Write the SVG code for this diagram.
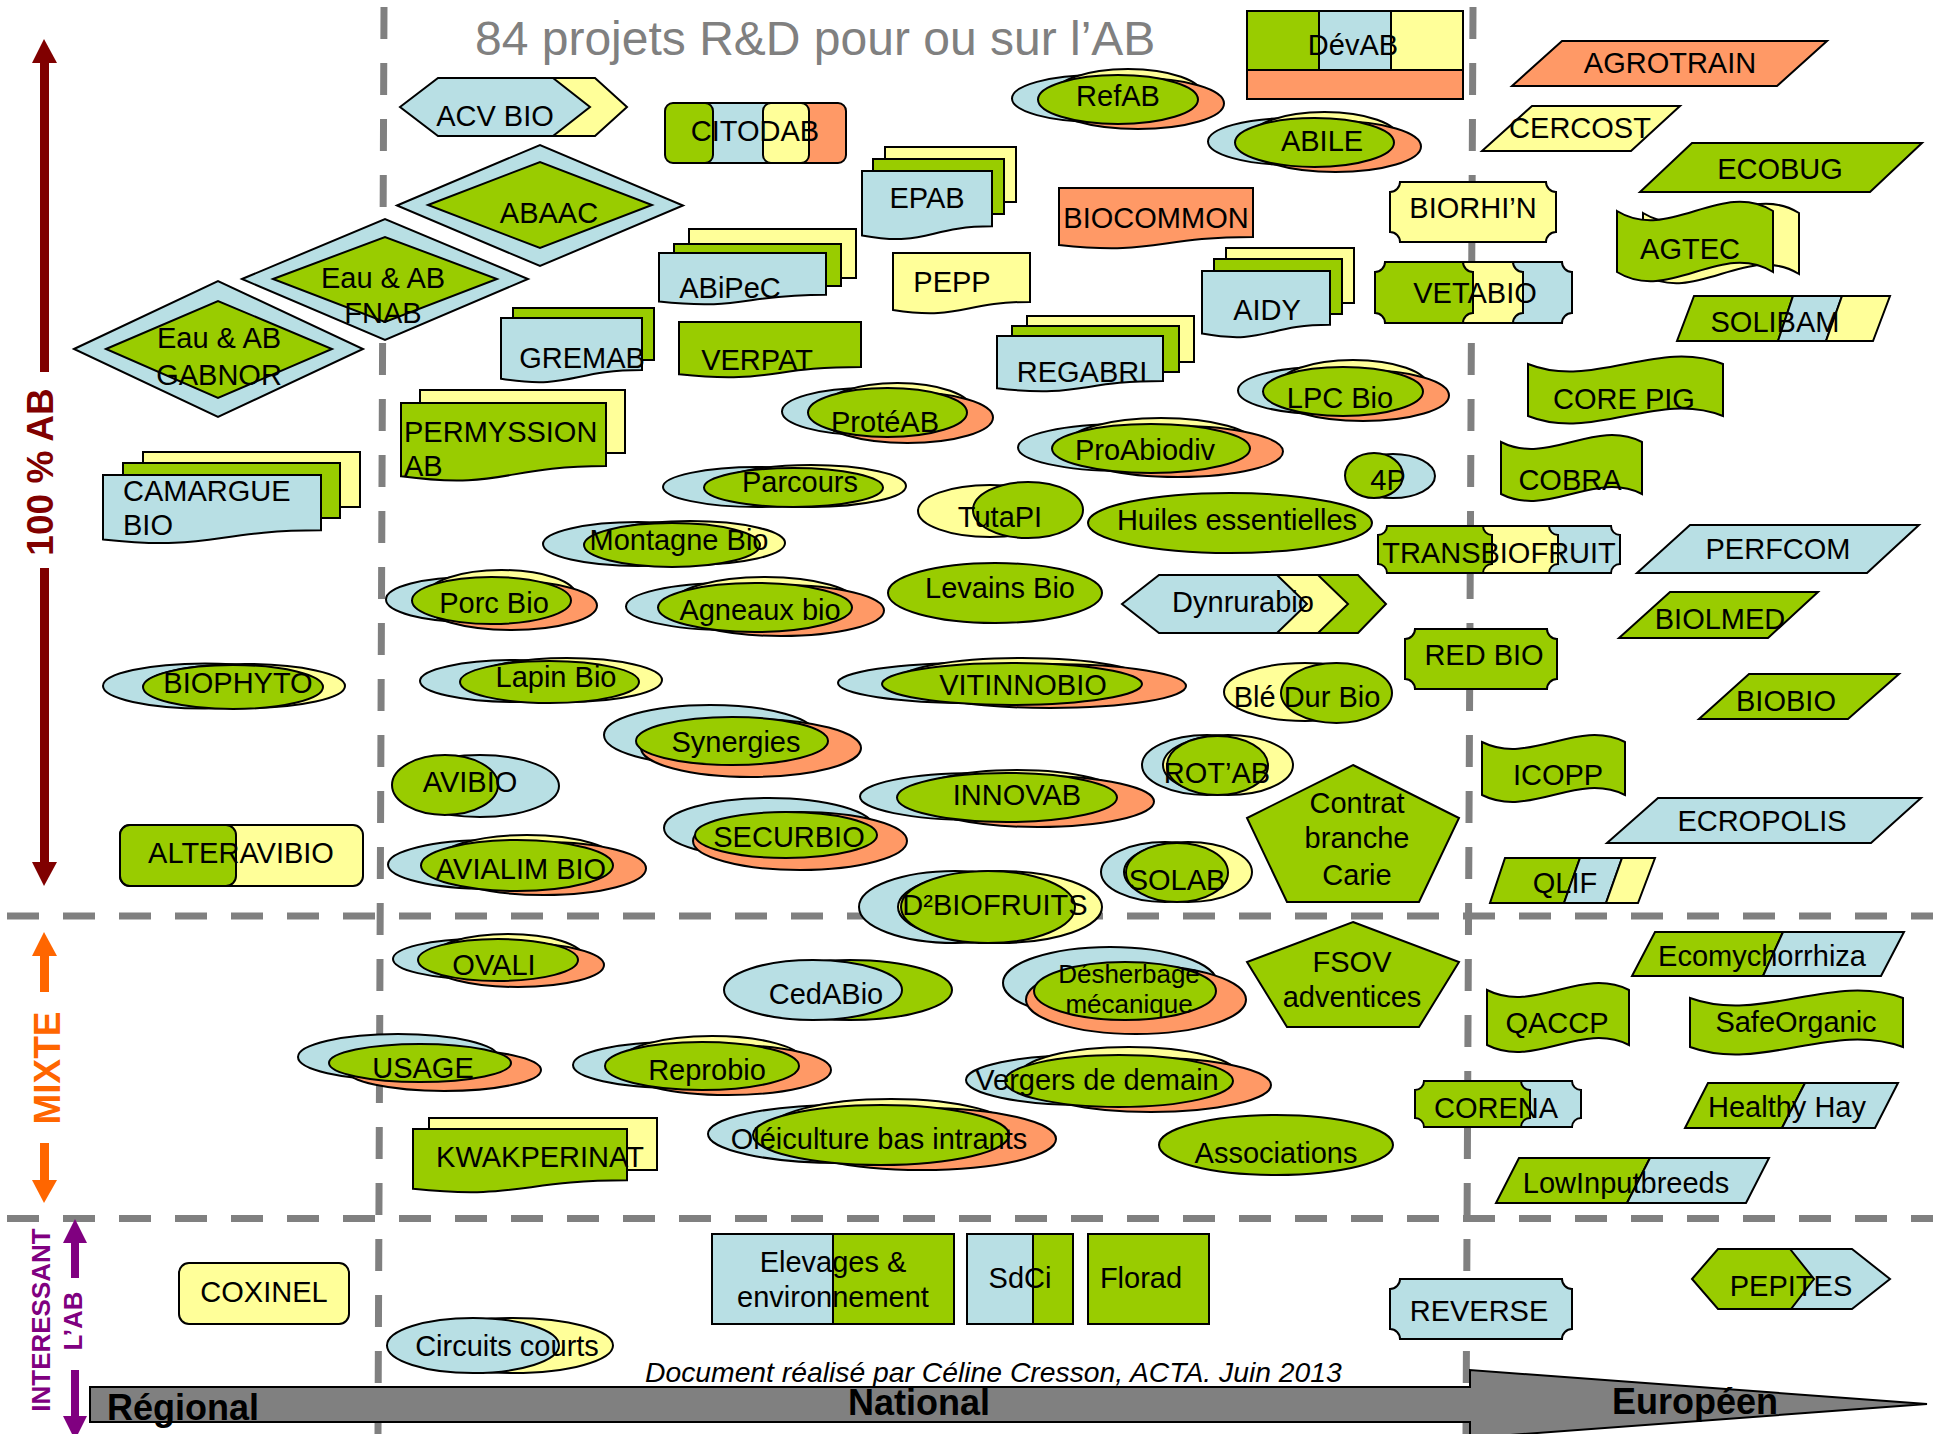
<svg xmlns="http://www.w3.org/2000/svg" width="1933" height="1434" viewBox="0 0 1933 1434">
<style>
.n path,.n ellipse,.n rect,.n polygon{stroke:#000;stroke-width:2}
.g{fill:#99CC00}.b{fill:#B8DFE4}.y{fill:#FFFF99}.o{fill:#FF9966}
text{font-family:"Liberation Sans",Arial,sans-serif;font-size:29px;fill:#000}
.c{text-anchor:middle}
.dash{stroke:#808080;stroke-width:7;stroke-dasharray:32 24;fill:none}
.ax{font-weight:bold;text-anchor:middle}
</style>
<rect width="1933" height="1434" fill="#fff"/>
<g id="grid">
<line class="dash" x1="384" y1="7" x2="378" y2="1434"/>
<line class="dash" x1="1473" y1="7" x2="1466" y2="1434"/>
<line class="dash" x1="7" y1="916" x2="1933" y2="916"/>
<line class="dash" x1="7" y1="1218.5" x2="1933" y2="1218.5"/>
</g>
<g id="axes">
<polygon points="90,1387 1470,1387 1470,1370 1927,1404 1470,1438 1470,1422 90,1422" fill="#808080" stroke="#000" stroke-width="2"/>
<text x="107" y="1420" style="font-size:36px;font-weight:bold">Régional</text>
<text x="848" y="1415" style="font-size:36px;font-weight:bold">National</text>
<text x="1612" y="1414" style="font-size:36px;font-weight:bold">Européen</text>
<g fill="#800000">
<polygon points="44,39 57,63 32,63"/><rect x="40" y="62" width="9" height="310"/>
<rect x="40" y="568" width="9" height="295"/><polygon points="32,862 57,862 44,886"/>
<text class="ax" transform="translate(53,472) rotate(-90)" style="font-size:37px;fill:#800000">100 % AB</text>
</g>
<g fill="#FF6600">
<polygon points="44,932 57,956 32,956"/><rect x="40" y="955" width="9" height="37"/>
<rect x="40" y="1143" width="9" height="38"/><polygon points="32,1180 57,1180 44,1203"/>
<text class="ax" transform="translate(60,1068) rotate(-90)" style="font-size:37px;fill:#FF6600">MIXTE</text>
</g>
<g fill="#800080">
<polygon points="75,1219 87,1243 63,1243"/><rect x="71" y="1242" width="8" height="36"/>
<rect x="71" y="1370" width="8" height="47"/><polygon points="63,1416 87,1416 75,1440"/>
<text class="ax" transform="translate(82,1321) rotate(-90)" style="font-size:26px;fill:#800080">L’AB</text>
<text class="ax" transform="translate(50,1320) rotate(-90)" style="font-size:26px;fill:#800080">INTERESSANT</text>
</g>
<text x="475" y="55" style="font-size:48px;fill:#808080">84 projets R&amp;D pour ou sur l’AB</text>
<text x="645" y="1382" style="font-size:28.3px;font-style:italic">Document réalisé par Céline Cresson, ACTA. Juin 2013</text>
</g>
<g id="nodes">
<g id="acvbio" class="n"><polygon class="y" points="470,78 595,78 627,107 595,136 470,136"/><polygon class="b" points="400,107 438,78 553,78 590,107 553,136 438,136"/><text class="c" x="495" y="126">ACV BIO</text></g>
<g id="citodab" class="n"><rect class="b" x="700" y="103" width="80" height="60"/><rect class="o" x="770" y="103" width="76" height="60" rx="8"/><rect class="g" x="665" y="103" width="48" height="60" rx="8"/><rect class="y" x="763" y="103" width="46" height="60" rx="8"/><text class="c" x="755" y="141">CITODAB</text></g>
<g id="devab" class="n"><rect class="g" x="1247" y="11" width="72" height="59"/><rect class="b" x="1319" y="11" width="72" height="59"/><rect class="y" x="1391" y="11" width="72" height="59"/><rect class="o" x="1247" y="70" width="216" height="29"/><text class="c" x="1353" y="55">DévAB</text></g>
<g id="agrotrain" class="n"><polygon class="o" points="1562,41 1827,41 1777,86 1512,86"/><text class="c" x="1670" y="73">AGROTRAIN</text></g>
<g id="cercost" class="n"><polygon class="y" points="1532,106 1680,106 1631,151 1482,151"/><text class="c" x="1580" y="138">CERCOST</text></g>
<g id="ecobug" class="n"><polygon class="g" points="1692,143 1922,143 1870,192 1640,192"/><text class="c" x="1780" y="179">ECOBUG</text></g>
<g id="refab" class="n"><ellipse class="b" cx="1097" cy="98.5" rx="85" ry="23.5"/><ellipse class="y" cx="1128" cy="95.5" rx="75" ry="26.5"/><ellipse class="o" cx="1138" cy="103.5" rx="86" ry="25.5"/><ellipse class="g" cx="1118" cy="99.5" rx="80" ry="24.5"/><text class="c" x="1118" y="106">RefAB</text></g>
<g id="abile" class="n"><ellipse class="b" cx="1292.5" cy="141.5" rx="84.5" ry="23.5"/><ellipse class="y" cx="1324.5" cy="138.5" rx="74.5" ry="26.5"/><ellipse class="o" cx="1335.5" cy="146.5" rx="85.5" ry="25.5"/><ellipse class="g" cx="1314.5" cy="142.5" rx="79.5" ry="24.5"/><text class="c" x="1322" y="151">ABILE</text></g>
<g id="abaac" class="n"><polygon class="b" points="397,205.5 540,145 683,205.5 540,266"/><polygon class="g" points="428,205 540,162 652,205 540,248"/><text class="c" x="549" y="223">ABAAC</text></g>
<g id="eaufnab" class="n"><polygon class="b" points="242,279 385,219 528,279 385,340"/><polygon class="g" points="273,279 385,237 497,279 385,322"/><text class="c" x="383" y="288">Eau &amp; AB</text><text class="c" x="383" y="323">FNAB</text></g>
<g id="eaugabnor" class="n"><polygon class="b" points="74,349 218,281 363,349 218,417"/><polygon class="g" points="106,349 218,301 332,349 218,398"/><text class="c" x="219" y="348">Eau &amp; AB</text><text class="c" x="219" y="385">GABNOR</text></g>
<g id="epab" class="n"><rect class="y" x="885" y="147" width="131" height="55"/><rect class="g" x="873" y="159" width="131" height="55"/><path class="b" d="M862,171H992V226.3C927,226.3 927,247.4 862,235.4Z"/><text class="c" x="927" y="208">EPAB</text></g>
<g id="biocommon" class="n"><path class="o" d="M1059,188H1253V236.9C1156,236.9 1156,255.5 1059,245Z"/><text class="c" x="1156" y="228">BIOCOMMON</text></g>
<g id="biorhin" class="n"><path class="y" d="M1400,182H1546A10,10 0 0 0 1556,192V232A10,10 0 0 0 1546,242H1400A10,10 0 0 0 1390,232V192A10,10 0 0 0 1400,182Z"/><text class="c" x="1473" y="218">BIORHI’N</text></g>
<g id="abipec" class="n"><rect class="y" x="689" y="229" width="167" height="49"/><rect class="g" x="674" y="244" width="167" height="42"/><path class="b" d="M659,253H826V294.7C742.5,294.7 742.5,310.6 659,301.6Z"/><text class="c" x="730" y="298">ABiPeC</text></g>
<g id="pepp" class="n"><path class="y" d="M893,253H1030V301.9C961.5,301.9 961.5,320.5 893,310Z"/><text class="c" x="952" y="292">PEPP</text></g>
<g id="aidy" class="n"><rect class="y" x="1226" y="248" width="128" height="55"/><rect class="g" x="1214" y="259" width="128" height="55"/><path class="b" d="M1202,271H1330V324.7C1266,324.7 1266,345.2 1202,333.6Z"/><text class="c" x="1267" y="320">AIDY</text></g>
<g id="vetabio" class="n"><path class="b" d="M1485,262H1562A10,10 0 0 0 1572,272V313A10,10 0 0 0 1562,323H1485A10,10 0 0 0 1475,313V272A10,10 0 0 0 1485,262Z"/><path class="y" d="M1435,262H1513A10,10 0 0 0 1523,272V313A10,10 0 0 0 1513,323H1435A10,10 0 0 0 1425,313V272A10,10 0 0 0 1435,262Z"/><path class="g" d="M1385,262H1463A10,10 0 0 0 1473,272V313A10,10 0 0 0 1463,323H1385A10,10 0 0 0 1375,313V272A10,10 0 0 0 1385,262Z"/><text class="c" x="1475" y="303">VETABIO</text></g>
<g id="agtec" class="n"><path class="y" d="M1643,213C1695,245 1747,181 1799,213V274C1747,242 1695,306 1643,274Z"/><path class="g" d="M1617,211C1669,243 1721,179 1773,211V272C1721,240 1669,304 1617,272Z"/><text class="c" x="1690" y="259">AGTEC</text></g>
<g id="gremab" class="n"><rect class="g" x="513" y="308" width="141" height="52"/><path class="b" d="M501,318H642V370.1C571.5,370.1 571.5,390 501,378.7Z"/><text class="c" x="582" y="368">GREMAB</text></g>
<g id="verpat" class="n"><path class="g" d="M679,322H861V366.9C770,366.9 770,384 679,374.3Z"/><text class="c" x="757" y="370">VERPAT</text></g>
<g id="regabri" class="n"><rect class="y" x="1027" y="316" width="167" height="46"/><rect class="g" x="1012" y="326" width="167" height="46"/><path class="b" d="M997,336H1163V380.9C1080,380.9 1080,398 997,388.3Z"/><text class="c" x="1082" y="382">REGABRI</text></g>
<g id="solibam" class="n"><polygon class="g" points="1694,296 1793,296 1778,341 1677,341"/><polygon class="b" points="1793,296 1842,296 1826,341 1778,341"/><polygon class="y" points="1842,296 1890,296 1873,341 1826,341"/><text class="c" x="1775" y="332">SOLIBAM</text></g>
<g id="permyssion" class="n"><rect class="y" x="420" y="390" width="205" height="63"/><path class="g" d="M401,403H606V466C503.5,466 503.5,489.9 401,476.3Z"/><text x="404" y="442">PERMYSSION</text><text x="404" y="476">AB</text></g>
<g id="proteab" class="n"><ellipse class="b" cx="866.5" cy="411.5" rx="84.5" ry="23.5"/><ellipse class="y" cx="897.5" cy="409.5" rx="74.5" ry="26.5"/><ellipse class="o" cx="907.5" cy="417.5" rx="85.5" ry="25.5"/><ellipse class="g" cx="887.5" cy="412.5" rx="79.5" ry="24.5"/><text class="c" x="885" y="432">ProtéAB</text></g>
<g id="lpcbio" class="n"><ellipse class="b" cx="1323" cy="390.5" rx="85" ry="23.5"/><ellipse class="y" cx="1353" cy="386.5" rx="75" ry="26.5"/><ellipse class="o" cx="1363" cy="395.5" rx="86" ry="25.5"/><ellipse class="g" cx="1343" cy="391.5" rx="80" ry="24.5"/><text class="c" x="1340" y="408">LPC Bio</text></g>
<g id="corepig" class="n"><path class="g" d="M1528,364C1593,390 1658,338 1723,364V416C1658,390 1593,442 1528,416Z"/><text class="c" x="1624" y="409">CORE PIG</text></g>
<g id="proabiodiv" class="n"><ellipse class="b" cx="1122" cy="447.5" rx="104" ry="23.5"/><ellipse class="y" cx="1161" cy="444.5" rx="94" ry="26.5"/><ellipse class="o" cx="1178" cy="451.5" rx="105" ry="25.5"/><ellipse class="g" cx="1151" cy="448.5" rx="99" ry="24.5"/><text class="c" x="1145" y="460">ProAbiodiv</text></g>
<g id="camargue" class="n"><rect class="y" x="143" y="452" width="217" height="55"/><rect class="g" x="123" y="463" width="217" height="55"/><path class="b" d="M103,475H321V530.3C212,530.3 212,551.4 103,539.4Z"/><text x="123" y="501">CAMARGUE</text><text x="123" y="535">BIO</text></g>
<g id="parcours" class="n"><ellipse class="b" cx="758" cy="487" rx="95" ry="20"/><ellipse class="y" cx="811" cy="486" rx="95" ry="21"/><ellipse class="g" cx="793.5" cy="487.5" rx="89.5" ry="19.5"/><text class="c" x="800" y="492">Parcours</text></g>
<g id="p4p" class="n"><ellipse class="b" cx="1393" cy="476" rx="42" ry="22"/><ellipse class="g" cx="1374" cy="475.5" rx="29" ry="22.5"/><text class="c" x="1388" y="490">4P</text></g>
<g id="cobra" class="n"><path class="g" d="M1501,442C1548,466 1595,418 1642,442V494C1595,470 1548,518 1501,494Z"/><text class="c" x="1570" y="490">COBRA</text></g>
<g id="tutapi" class="n"><ellipse class="y" cx="990" cy="511" rx="72" ry="26"/><ellipse class="g" cx="1028" cy="510" rx="55" ry="28"/><text class="c" x="1000" y="527">TutaPI</text></g>
<g id="huiles" class="n"><ellipse class="g" cx="1230" cy="523" rx="142" ry="30"/><text class="c" x="1237" y="530">Huiles essentielles</text></g>
<g id="montagne" class="n"><ellipse class="b" cx="638" cy="544" rx="95" ry="22"/><ellipse class="y" cx="690" cy="543" rx="95" ry="22"/><ellipse class="g" cx="672" cy="545" rx="88" ry="22"/><text class="c" x="679" y="550">Montagne Bio</text></g>
<g id="transbiofruit" class="n"><path class="b" d="M1519,526H1611A9,9 0 0 0 1620,535V564A9,9 0 0 0 1611,573H1519A9,9 0 0 0 1510,564V535A9,9 0 0 0 1519,526Z"/><path class="y" d="M1449,526H1549A9,9 0 0 0 1558,535V564A9,9 0 0 0 1549,573H1449A9,9 0 0 0 1440,564V535A9,9 0 0 0 1449,526Z"/><path class="g" d="M1387,526H1483A9,9 0 0 0 1492,535V564A9,9 0 0 0 1483,573H1387A9,9 0 0 0 1378,564V535A9,9 0 0 0 1387,526Z"/><text class="c" x="1499" y="563">TRANSBIOFRUIT</text></g>
<g id="perfcom" class="n"><polygon class="b" points="1690,525 1919,525 1867,573 1637,573"/><text class="c" x="1778" y="559">PERFCOM</text></g>
<g id="porcbio" class="n"><ellipse class="b" cx="470.5" cy="599.5" rx="84.5" ry="22.5"/><ellipse class="y" cx="501.5" cy="595.5" rx="74.5" ry="25.5"/><ellipse class="o" cx="511.5" cy="605.5" rx="85.5" ry="24.5"/><ellipse class="g" cx="491.5" cy="600.5" rx="79.5" ry="23.5"/><text class="c" x="494" y="613">Porc Bio</text></g>
<g id="agneaux" class="n"><ellipse class="b" cx="728" cy="606.5" rx="102" ry="23.5"/><ellipse class="y" cx="765" cy="603.5" rx="92" ry="26.5"/><ellipse class="o" cx="781" cy="610.5" rx="103" ry="25.5"/><ellipse class="g" cx="755" cy="607.5" rx="97" ry="24.5"/><text class="c" x="760" y="620">Agneaux bio</text></g>
<g id="levains" class="n"><ellipse class="g" cx="995" cy="593" rx="107" ry="30"/><text class="c" x="1000" y="598">Levains Bio</text></g>
<g id="dynrurabio" class="n"><polygon class="g" points="1300,575 1358,575 1386,604 1358,633 1300,633"/><polygon class="y" points="1260,575 1318,575 1348,604 1318,633 1260,633"/><polygon class="b" points="1122,604 1159,575 1277,575 1307,604 1277,633 1159,633"/><text class="c" x="1243" y="612">Dynrurabio</text></g>
<g id="biolmed" class="n"><polygon class="g" points="1670,592 1818,592 1768,638 1619,638"/><text class="c" x="1720" y="629">BIOLMED</text></g>
<g id="redbio" class="n"><path class="g" d="M1415,629H1547A10,10 0 0 0 1557,639V679A10,10 0 0 0 1547,689H1415A10,10 0 0 0 1405,679V639A10,10 0 0 0 1415,629Z"/><text class="c" x="1484" y="665">RED BIO</text></g>
<g id="biophyto" class="n"><ellipse class="b" cx="205" cy="686" rx="102" ry="22.5"/><ellipse class="y" cx="245" cy="686" rx="100" ry="22"/><ellipse class="g" cx="233" cy="687" rx="90" ry="22"/><text class="c" x="238" y="693">BIOPHYTO</text></g>
<g id="lapin" class="n"><ellipse class="b" cx="515" cy="681" rx="95" ry="21"/><ellipse class="y" cx="567" cy="680" rx="95" ry="22"/><ellipse class="g" cx="549.5" cy="682" rx="89.5" ry="21"/><text class="c" x="556" y="687">Lapin Bio</text></g>
<g id="vitinnobio" class="n"><ellipse class="b" cx="973" cy="683" rx="135" ry="20"/><ellipse class="y" cx="1022" cy="681" rx="125" ry="23"/><ellipse class="o" cx="1050" cy="686" rx="136" ry="22"/><ellipse class="g" cx="1012" cy="684" rx="130" ry="21"/><text class="c" x="1023" y="695">VITINNOBIO</text></g>
<g id="bledur" class="n"><ellipse class="y" cx="1305" cy="692" rx="81" ry="29"/><ellipse class="g" cx="1336.5" cy="693" rx="55.5" ry="30"/><text class="c" x="1307" y="707">Blé Dur Bio</text></g>
<g id="biobio" class="n"><polygon class="g" points="1749,674 1899,674 1848,719 1699,719"/><text class="c" x="1786" y="711">BIOBIO</text></g>
<g id="synergies" class="n"><ellipse class="b" cx="710" cy="735" rx="106" ry="30"/><ellipse class="o" cx="751" cy="748" rx="110" ry="29"/><ellipse class="g" cx="732" cy="741" rx="96" ry="24"/><text class="c" x="736" y="752">Synergies</text></g>
<g id="avibio" class="n"><ellipse class="b" cx="480" cy="786" rx="79" ry="31"/><ellipse class="g" cx="445" cy="785" rx="53" ry="30"/><text class="c" x="470" y="792">AVIBIO</text></g>
<g id="rotab" class="n"><ellipse class="b" cx="1207" cy="765" rx="65" ry="30"/><ellipse class="y" cx="1228" cy="765" rx="65" ry="30"/><ellipse class="g" cx="1217.5" cy="765.5" rx="50.5" ry="29.5"/><text class="c" x="1217" y="783">ROT’AB</text></g>
<g id="icopp" class="n"><path class="g" d="M1482,742C1529.7,766 1577.3,718 1625,742V795C1577.3,771 1529.7,819 1482,795Z"/><text class="c" x="1558" y="785">ICOPP</text></g>
<g id="innovab" class="n"><ellipse class="b" cx="975" cy="796.5" rx="115" ry="23.5"/><ellipse class="y" cx="1017" cy="796.5" rx="105" ry="26.5"/><ellipse class="o" cx="1038" cy="801.5" rx="116" ry="25.5"/><ellipse class="g" cx="1007" cy="797.5" rx="110" ry="24.5"/><text class="c" x="1017" y="805">INNOVAB</text></g>
<g id="ecropolis" class="n"><polygon class="b" points="1658,798 1921,798 1871,843 1607,843"/><text class="c" x="1762" y="831">ECROPOLIS</text></g>
<g id="securbio" class="n"><ellipse class="b" cx="769" cy="828" rx="105" ry="30"/><ellipse class="o" cx="800" cy="841" rx="107" ry="29"/><ellipse class="g" cx="786" cy="835" rx="91" ry="23"/><text class="c" x="789" y="847">SECURBIO</text></g>
<g id="contrat" class="n"><polygon class="g" points="1353,765 1459,818 1419,902 1287,902 1247,818"/><text class="c" x="1357" y="813">Contrat</text><text class="c" x="1357" y="848">branche</text><text class="c" x="1357" y="885">Carie</text></g>
<g id="alteravibio" class="n"><rect class="y" x="120" y="825" width="243" height="61" rx="10"/><rect class="g" x="120" y="825" width="116" height="61" rx="10"/><text class="c" x="241" y="863">ALTERAVIBIO</text></g>
<g id="avialim" class="n"><ellipse class="b" cx="489" cy="864.5" rx="101" ry="24.5"/><ellipse class="y" cx="527" cy="862.5" rx="91" ry="27.5"/><ellipse class="o" cx="544" cy="868.5" rx="102" ry="26.5"/><ellipse class="g" cx="517" cy="865.5" rx="96" ry="25.5"/><text class="c" x="521" y="879">AVIALIM BIO</text></g>
<g id="solab" class="n"><ellipse class="b" cx="1165" cy="872" rx="64" ry="30"/><ellipse class="y" cx="1188" cy="872" rx="64" ry="30"/><ellipse class="g" cx="1177" cy="872.5" rx="51" ry="29.5"/><text class="c" x="1177" y="890">SOLAB</text></g>
<g id="qlif" class="n"><polygon class="g" points="1505,858 1580,858 1564,903 1490,903"/><polygon class="b" points="1580,858 1622,858 1606,903 1564,903"/><polygon class="y" points="1622,858 1655,858 1638,903 1606,903"/><text class="c" x="1565" y="893">QLIF</text></g>
<g id="d2biofruits" class="n"><ellipse class="b" cx="955" cy="907" rx="96" ry="36"/><ellipse class="y" cx="1000" cy="907" rx="102" ry="36"/><ellipse class="g" cx="988" cy="907" rx="87" ry="36"/><text class="c" x="995" y="915">D²BIOFRUITS</text></g>
<g id="ovali" class="n"><ellipse class="b" cx="478" cy="959" rx="85" ry="20"/><ellipse class="y" cx="508" cy="957" rx="75" ry="23"/><ellipse class="o" cx="518" cy="965" rx="86" ry="22"/><ellipse class="g" cx="498" cy="960" rx="80" ry="21"/><text class="c" x="494" y="975">OVALI</text></g>
<g id="cedabio" class="n"><ellipse class="g" cx="850" cy="990" rx="102" ry="30"/><ellipse class="b" cx="813" cy="990" rx="89" ry="30"/><text class="c" x="826" y="1004">CedABio</text></g>
<g id="desherbage" class="n"><ellipse class="b" cx="1110" cy="983" rx="107" ry="36"/><ellipse class="o" cx="1136" cy="999.5" rx="110" ry="34.5"/><ellipse class="g" cx="1125" cy="991" rx="91" ry="29"/><text class="c" x="1129" y="983" style="font-size:26px">Désherbage</text><text class="c" x="1129" y="1013" style="font-size:26px">mécanique</text></g>
<g id="fsov" class="n"><polygon class="g" points="1353,922 1459,962 1419,1027 1287,1027 1247,962"/><text class="c" x="1352" y="972">FSOV</text><text class="c" x="1352" y="1007">adventices</text></g>
<g id="ecomyc" class="n"><polygon class="g" points="1655,932 1783,932 1763,976 1632,976"/><polygon class="b" points="1783,932 1904,932 1881,976 1763,976"/><text class="c" x="1762" y="966">Ecomychorrhiza</text></g>
<g id="qaccp" class="n"><path class="g" d="M1487,990C1534.3,1014 1581.7,966 1629,990V1045C1581.7,1021 1534.3,1069 1487,1045Z"/><text class="c" x="1557" y="1033">QACCP</text></g>
<g id="safeorganic" class="n"><path class="g" d="M1690,998C1761,1024 1832,972 1903,998V1047C1832,1021 1761,1073 1690,1047Z"/><text class="c" x="1796" y="1032">SafeOrganic</text></g>
<g id="usage" class="n"><ellipse class="b" cx="398" cy="1057" rx="100" ry="23"/><ellipse class="o" cx="444" cy="1070" rx="97" ry="21"/><ellipse class="g" cx="420" cy="1063" rx="91" ry="19"/><text class="c" x="423" y="1078">USAGE</text></g>
<g id="reprobio" class="n"><ellipse class="b" cx="675" cy="1065" rx="102" ry="23"/><ellipse class="y" cx="712" cy="1062" rx="92" ry="26"/><ellipse class="o" cx="728" cy="1070" rx="103" ry="25"/><ellipse class="g" cx="702" cy="1066" rx="97" ry="24"/><text class="c" x="707" y="1080">Reprobio</text></g>
<g id="vergers" class="n"><ellipse class="b" cx="1085" cy="1080" rx="119" ry="25"/><ellipse class="y" cx="1129" cy="1075" rx="109" ry="28"/><ellipse class="o" cx="1151" cy="1085" rx="120" ry="27"/><ellipse class="g" cx="1119" cy="1081" rx="114" ry="26"/><text class="c" x="1097" y="1090">Vergers de demain</text></g>
<g id="corena" class="n"><path class="b" d="M1489,1081H1572A9,9 0 0 0 1581,1090V1118A9,9 0 0 0 1572,1127H1489A9,9 0 0 0 1480,1118V1090A9,9 0 0 0 1489,1081Z"/><path class="g" d="M1424,1081H1521A9,9 0 0 0 1530,1090V1118A9,9 0 0 0 1521,1127H1424A9,9 0 0 0 1415,1118V1090A9,9 0 0 0 1424,1081Z"/><text class="c" x="1496" y="1118">CORENA</text></g>
<g id="healthyhay" class="n"><polygon class="g" points="1708,1083 1805,1083 1782,1128 1685,1128"/><polygon class="b" points="1805,1083 1898,1083 1875,1128 1782,1128"/><text class="c" x="1787" y="1117">Healthy Hay</text></g>
<g id="kwakperinat" class="n"><rect class="y" x="429" y="1118" width="228" height="52"/><path class="g" d="M413,1129H627V1180.3C520,1180.3 520,1199.8 413,1188.8Z"/><text class="c" x="540" y="1167">KWAKPERINAT</text></g>
<g id="oleiculture" class="n"><ellipse class="b" cx="841" cy="1134" rx="133" ry="29"/><ellipse class="y" cx="891" cy="1131" rx="123" ry="32"/><ellipse class="o" cx="922" cy="1139" rx="134" ry="31"/><ellipse class="g" cx="881" cy="1135" rx="128" ry="30"/><text class="c" x="879" y="1149">Oléiculture bas intrants</text></g>
<g id="associations" class="n"><ellipse class="g" cx="1276" cy="1145" rx="117" ry="30"/><text class="c" x="1276" y="1163">Associations</text></g>
<g id="lowinput" class="n"><polygon class="g" points="1519,1158 1650,1158 1627,1203 1496,1203"/><polygon class="b" points="1650,1158 1769,1158 1746,1203 1627,1203"/><text class="c" x="1626" y="1193">LowInputbreeds</text></g>
<g id="coxinel" class="n"><rect class="y" x="179" y="1263" width="170" height="61" rx="10"/><text class="c" x="264" y="1302">COXINEL</text></g>
<g id="elevages" class="n"><rect class="b" x="712" y="1234" width="121" height="90"/><rect class="g" x="833" y="1234" width="121" height="90"/><text class="c" x="833" y="1272">Elevages &amp;</text><text class="c" x="833" y="1307">environnement</text></g>
<g id="sdci" class="n"><rect class="b" x="967" y="1234" width="66" height="90"/><rect class="g" x="1033" y="1234" width="40" height="90"/><text class="c" x="1020" y="1288">SdCi</text></g>
<g id="florad" class="n"><rect class="g" x="1088" y="1234" width="121" height="90"/><text class="c" x="1141" y="1288">Florad</text></g>
<g id="reverse" class="n"><path class="b" d="M1400,1279H1562A10,10 0 0 0 1572,1289V1329A10,10 0 0 0 1562,1339H1400A10,10 0 0 0 1390,1329V1289A10,10 0 0 0 1400,1279Z"/><text class="c" x="1479" y="1321">REVERSE</text></g>
<g id="pepites" class="n"><polygon class="b" points="1760,1249 1852,1249 1890,1279 1852,1309 1760,1309"/><polygon class="g" points="1692,1279 1718,1249 1790,1249 1814,1279 1791,1309 1718,1309"/><text class="c" x="1791" y="1296">PEPITES</text></g>
<g id="circuits" class="n"><ellipse class="y" cx="513" cy="1345.5" rx="100" ry="27.5"/><ellipse class="b" cx="473" cy="1345.5" rx="86" ry="27.5"/><text class="c" x="507" y="1356">Circuits courts</text></g>
</g>
</svg>
